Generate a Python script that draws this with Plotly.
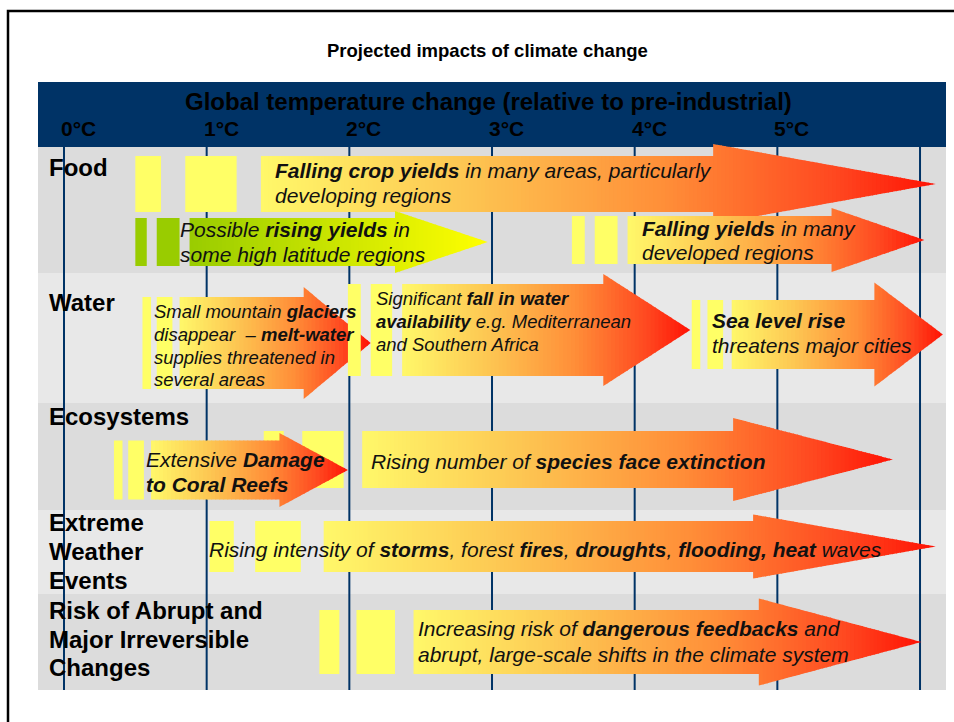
import plotly.graph_objects as go

# ---------------------------------------------------------------------------
# Data
# ---------------------------------------------------------------------------
tick_temps = [0, 1, 2, 3, 4, 5]
tick_labels = ["0°C", "1°C", "2°C", "3°C", "4°C", "5°C"]
grid_temps = [0, 1, 2, 3, 4, 5, 6]

sector_lines = [
    ["Food"],
    ["Water"],
    ["Ecosystems"],
    ["Extreme", "Weather", "Events"],
    ["Risk of Abrupt and", "Major Irreversible", "Changes"],
]

impact_text = [
    ["<b>Falling crop yields</b> in many areas, particularly", "developing regions"],
    ["Possible <b>rising yields</b> in", "some high latitude regions"],
    ["<b>Falling yields</b> in many", "developed regions"],
    ["Small mountain <b>glaciers</b>", "disappear \u00a0– <b>melt-water</b>",
     "supplies threatened in", "several areas"],
    ["Significant <b>fall in water</b>", "<b>availability</b> e.g. Mediterranean",
     "and Southern Africa"],
    ["<b>Sea level rise</b>", "threatens major cities"],
    ["Rising number of <b>species face extinction</b>"],
    ["Extensive <b>Damage</b>", "<b>to Coral Reefs</b>"],
    ["Rising intensity of <b>storms</b>, forest <b>fires</b>, <b>droughts</b>, "
     "<b>flooding, heat</b> waves"],
    ["Increasing risk of <b>dangerous feedbacks</b> and",
     "abrupt, large-scale shifts in the climate system"],
]

# temperature (°C) where each arrow starts and where its tip points
impact_start = [1.38, 0.88, 3.95, 0.81, 2.37, 4.68, 2.09, 0.61, 1.82, 2.45]
impact_end = [6.11, 2.97, 6.03, 2.15, 4.39, 6.16, 5.81, 1.99, 6.11, 6.01]

# early-onset bars (°C ranges) shown ahead of each arrow
onset_bars = [
    [(0.50, 0.68), (0.85, 1.21)],
    [(0.50, 0.58), (0.65, 0.81)],
    [(3.56, 3.65), (3.72, 3.88)],
    [(0.55, 0.61), (0.65, 0.76)],
    [(1.99, 2.08), (2.15, 2.30)],
    [(4.40, 4.46), (4.51, 4.62)],
    [(1.40, 1.54), (1.67, 1.96)],
    [(0.35, 0.41), (0.45, 0.56)],
    [(1.02, 1.19), (1.34, 1.66)],
    [(1.79, 1.93), (2.05, 2.32)],
]

# ---------------------------------------------------------------------------
# Layout geometry (page units: 1 unit = 1 px, y grows downward)
# ---------------------------------------------------------------------------
W, H = 954, 722
X0_PX, PX_PER_DEG = 64.0, 142.67
T_MIN = -X0_PX / PX_PER_DEG
T_MAX = (W - X0_PX) / PX_PER_DEG

# per arrow: centre y, body half-height, head half-height, head length (°C),
# text left (°C), text line centres, font size, palette
ARROW_GEOM = [
    dict(cy=184, bh=28, hh=40, head=1.56, tx=1.465, ty=[170, 195], fs=21, pal="fire"),
    dict(cy=242, bh=24, hh=31, head=0.65, tx=0.80, ty=[229, 254], fs=21, pal="green"),
    dict(cy=240, bh=24, hh=32, head=0.65, tx=4.035, ty=[228, 252], fs=21, pal="fire"),
    dict(cy=343, bh=46, hh=56, head=0.47, tx=0.617, ty=[311, 334, 357, 379], fs=18.5, pal="fire"),
    dict(cy=330, bh=46, hh=56, head=0.61, tx=2.175, ty=[298, 321, 344], fs=18.5, pal="fire"),
    dict(cy=334.5, bh=34.5, hh=52, head=0.48, tx=4.525, ty=[320, 345], fs=21, pal="fire"),
    dict(cy=459.5, bh=28.5, hh=41.5, head=1.12, tx=2.135, ty=[461], fs=21, pal="fire"),
    dict(cy=470, bh=29.5, hh=37, head=0.48, tx=0.56, ty=[459, 484], fs=21, pal="fire"),
    dict(cy=546.5, bh=25.5, hh=32, head=1.28, tx=1.005, ty=[549], fs=21, pal="fire"),
    dict(cy=642, bh=32, hh=43.5, head=1.14, tx=2.465, ty=[628, 654], fs=21, pal="fire"),
]

ROW_BANDS = [(147, 273, "#dcdcdc"), (273, 403, "#e8e8e8"), (403, 510, "#dcdcdc"),
             (510, 594, "#e8e8e8"), (594, 690, "#dcdcdc")]
SECTOR_Y = [[167], [302], [416.5], [522.5, 551.5, 580.5], [610, 639, 667]]

NAVY = "#003366"
FONT = "Arial, 'Liberation Sans', Helvetica, sans-serif"

PALETTES = {
    "fire": [(0.0, (255, 248, 106)), (0.3, (253, 198, 82)), (0.6, (255, 142, 56)),
             (0.85, (255, 72, 32)), (1.0, (255, 18, 4))],
    "green": [(0.0, (153, 204, 0)), (1.0, (255, 255, 0))],
}
BAR_COLOR = {"fire": "#ffff66", "green": "#99cc00"}


def px(x):
    return x / W


def ramp(pal, f):
    stops = PALETTES[pal]
    f = min(max(f, 0.0), 1.0)
    for (f0, c0), (f1, c1) in zip(stops[:-1], stops[1:]):
        if f <= f1:
            u = (f - f0) / (f1 - f0) if f1 > f0 else 0
            c = [round(a + (b - a) * u) for a, b in zip(c0, c1)]
            return "rgb(%d,%d,%d)" % tuple(c)
    return "rgb(%d,%d,%d)" % stops[-1][1]


def quad(a, b, cy, ha, hb, color):
    path = (f"M{a:.4f},{cy - ha:.2f}L{b:.4f},{cy - hb:.2f}"
            f"L{b:.4f},{cy + hb:.2f}L{a:.4f},{cy + ha:.2f}Z")
    return dict(type="path", path=path, xref="x", yref="y",
                fillcolor=color, line=dict(width=0), layer="above")


def arrow_shapes(x0, xt, g, step_px=4.0):
    """Block arrow with a horizontal colour ramp, built from thin strips."""
    xh = xt - g["head"]
    cy, bh, hh = g["cy"], g["bh"], g["hh"]
    total = xt - x0
    ov = 0.9 / PX_PER_DEG
    out = []
    nb = max(1, int(round((xh - x0) * PX_PER_DEG / step_px)))
    for i in range(nb):
        a = x0 + (xh - x0) * i / nb
        b = x0 + (xh - x0) * (i + 1) / nb
        col = ramp(g["pal"], ((a + b) / 2 - x0) / total)
        out.append(quad(a, b + ov, cy, bh, bh, col))
    nh = max(1, int(round((xt - xh) * PX_PER_DEG / step_px)))
    for i in range(nh):
        a = xh + (xt - xh) * i / nh
        b = xh + (xt - xh) * (i + 1) / nh
        col = ramp(g["pal"], ((a + b) / 2 - x0) / total)
        be = min(b + ov, xt)
        ha = hh * (xt - a) / (xt - xh)
        hb = hh * (xt - be) / (xt - xh)
        out.append(quad(a, be, cy, ha, hb, col))
    return out


shapes = []

# page frame
shapes.append(dict(type="rect", xref="paper", yref="paper",
                   x0=px(8), x1=1.05, y0=1 - 11 / H, y1=-0.05,
                   line=dict(color="black", width=2.5), fillcolor="rgba(0,0,0,0)",
                   layer="above"))
# header band
shapes.append(dict(type="rect", xref="paper", yref="y", x0=px(38), x1=px(946),
                   y0=82, y1=147, fillcolor=NAVY, line=dict(width=0), layer="above"))
# sector rows
for y0, y1, col in ROW_BANDS:
    shapes.append(dict(type="rect", xref="paper", yref="y", x0=px(38), x1=px(946),
                       y0=y0, y1=y1, fillcolor=col, line=dict(width=0), layer="above"))
# temperature grid lines
for t in grid_temps:
    shapes.append(dict(type="line", xref="x", yref="y", x0=t, x1=t, y0=147, y1=690,
                       line=dict(color=NAVY, width=2), layer="above"))

# onset bars and arrows
for bars, s, e, g in zip(onset_bars, impact_start, impact_end, ARROW_GEOM):
    for b0, b1 in bars:
        shapes.append(dict(type="rect", xref="x", yref="y", x0=b0, x1=b1,
                           y0=g["cy"] - g["bh"], y1=g["cy"] + g["bh"],
                           fillcolor=BAR_COLOR[g["pal"]], line=dict(width=0),
                           layer="above"))
    shapes.extend(arrow_shapes(s, e, g))

annotations = []
annotations.append(dict(text="<b>Projected impacts of climate change</b>",
                        xref="paper", yref="y", x=px(487.5), y=50,
                        xanchor="center", yanchor="middle", showarrow=False,
                        font=dict(family=FONT, size=18.5, color="black")))
annotations.append(dict(text="<b>Global temperature change (relative to pre-industrial)</b>",
                        xref="paper", yref="y", x=px(488), y=101,
                        xanchor="center", yanchor="middle", showarrow=False,
                        font=dict(family=FONT, size=24, color="#000000")))
for t, lab in zip(tick_temps, tick_labels):
    annotations.append(dict(text=f"<b>{lab}</b>", xref="x", yref="y", x=t, y=128,
                            xanchor="left", yanchor="middle", xshift=-5,
                            showarrow=False,
                            font=dict(family=FONT, size=21, color="#000000")))
for lines, ys in zip(sector_lines, SECTOR_Y):
    for line, y in zip(lines, ys):
        annotations.append(dict(text=f"<b>{line}</b>", xref="paper", yref="y",
                                x=px(47), y=y, xanchor="left", yanchor="middle",
                                showarrow=False,
                                font=dict(family=FONT, size=24, color="#000000")))
for lines, g in zip(impact_text, ARROW_GEOM):
    for line, y in zip(lines, g["ty"]):
        annotations.append(dict(text=f"<i>{line}</i>", xref="x", yref="y",
                                x=g["tx"], y=y, xanchor="left", yanchor="middle",
                                showarrow=False,
                                font=dict(family=FONT, size=g["fs"], color="#111111")))

fig = go.Figure(go.Scatter(x=[], y=[], showlegend=False))
fig.update_layout(
    width=W, height=H,
    margin=dict(l=0, r=0, t=0, b=0, pad=0),
    paper_bgcolor="white", plot_bgcolor="white",
    xaxis=dict(range=[T_MIN, T_MAX], visible=False, fixedrange=True),
    yaxis=dict(range=[H, 0], visible=False, fixedrange=True),
    shapes=shapes, annotations=annotations,
    showlegend=False,
)
fig.write_html("out.html")
